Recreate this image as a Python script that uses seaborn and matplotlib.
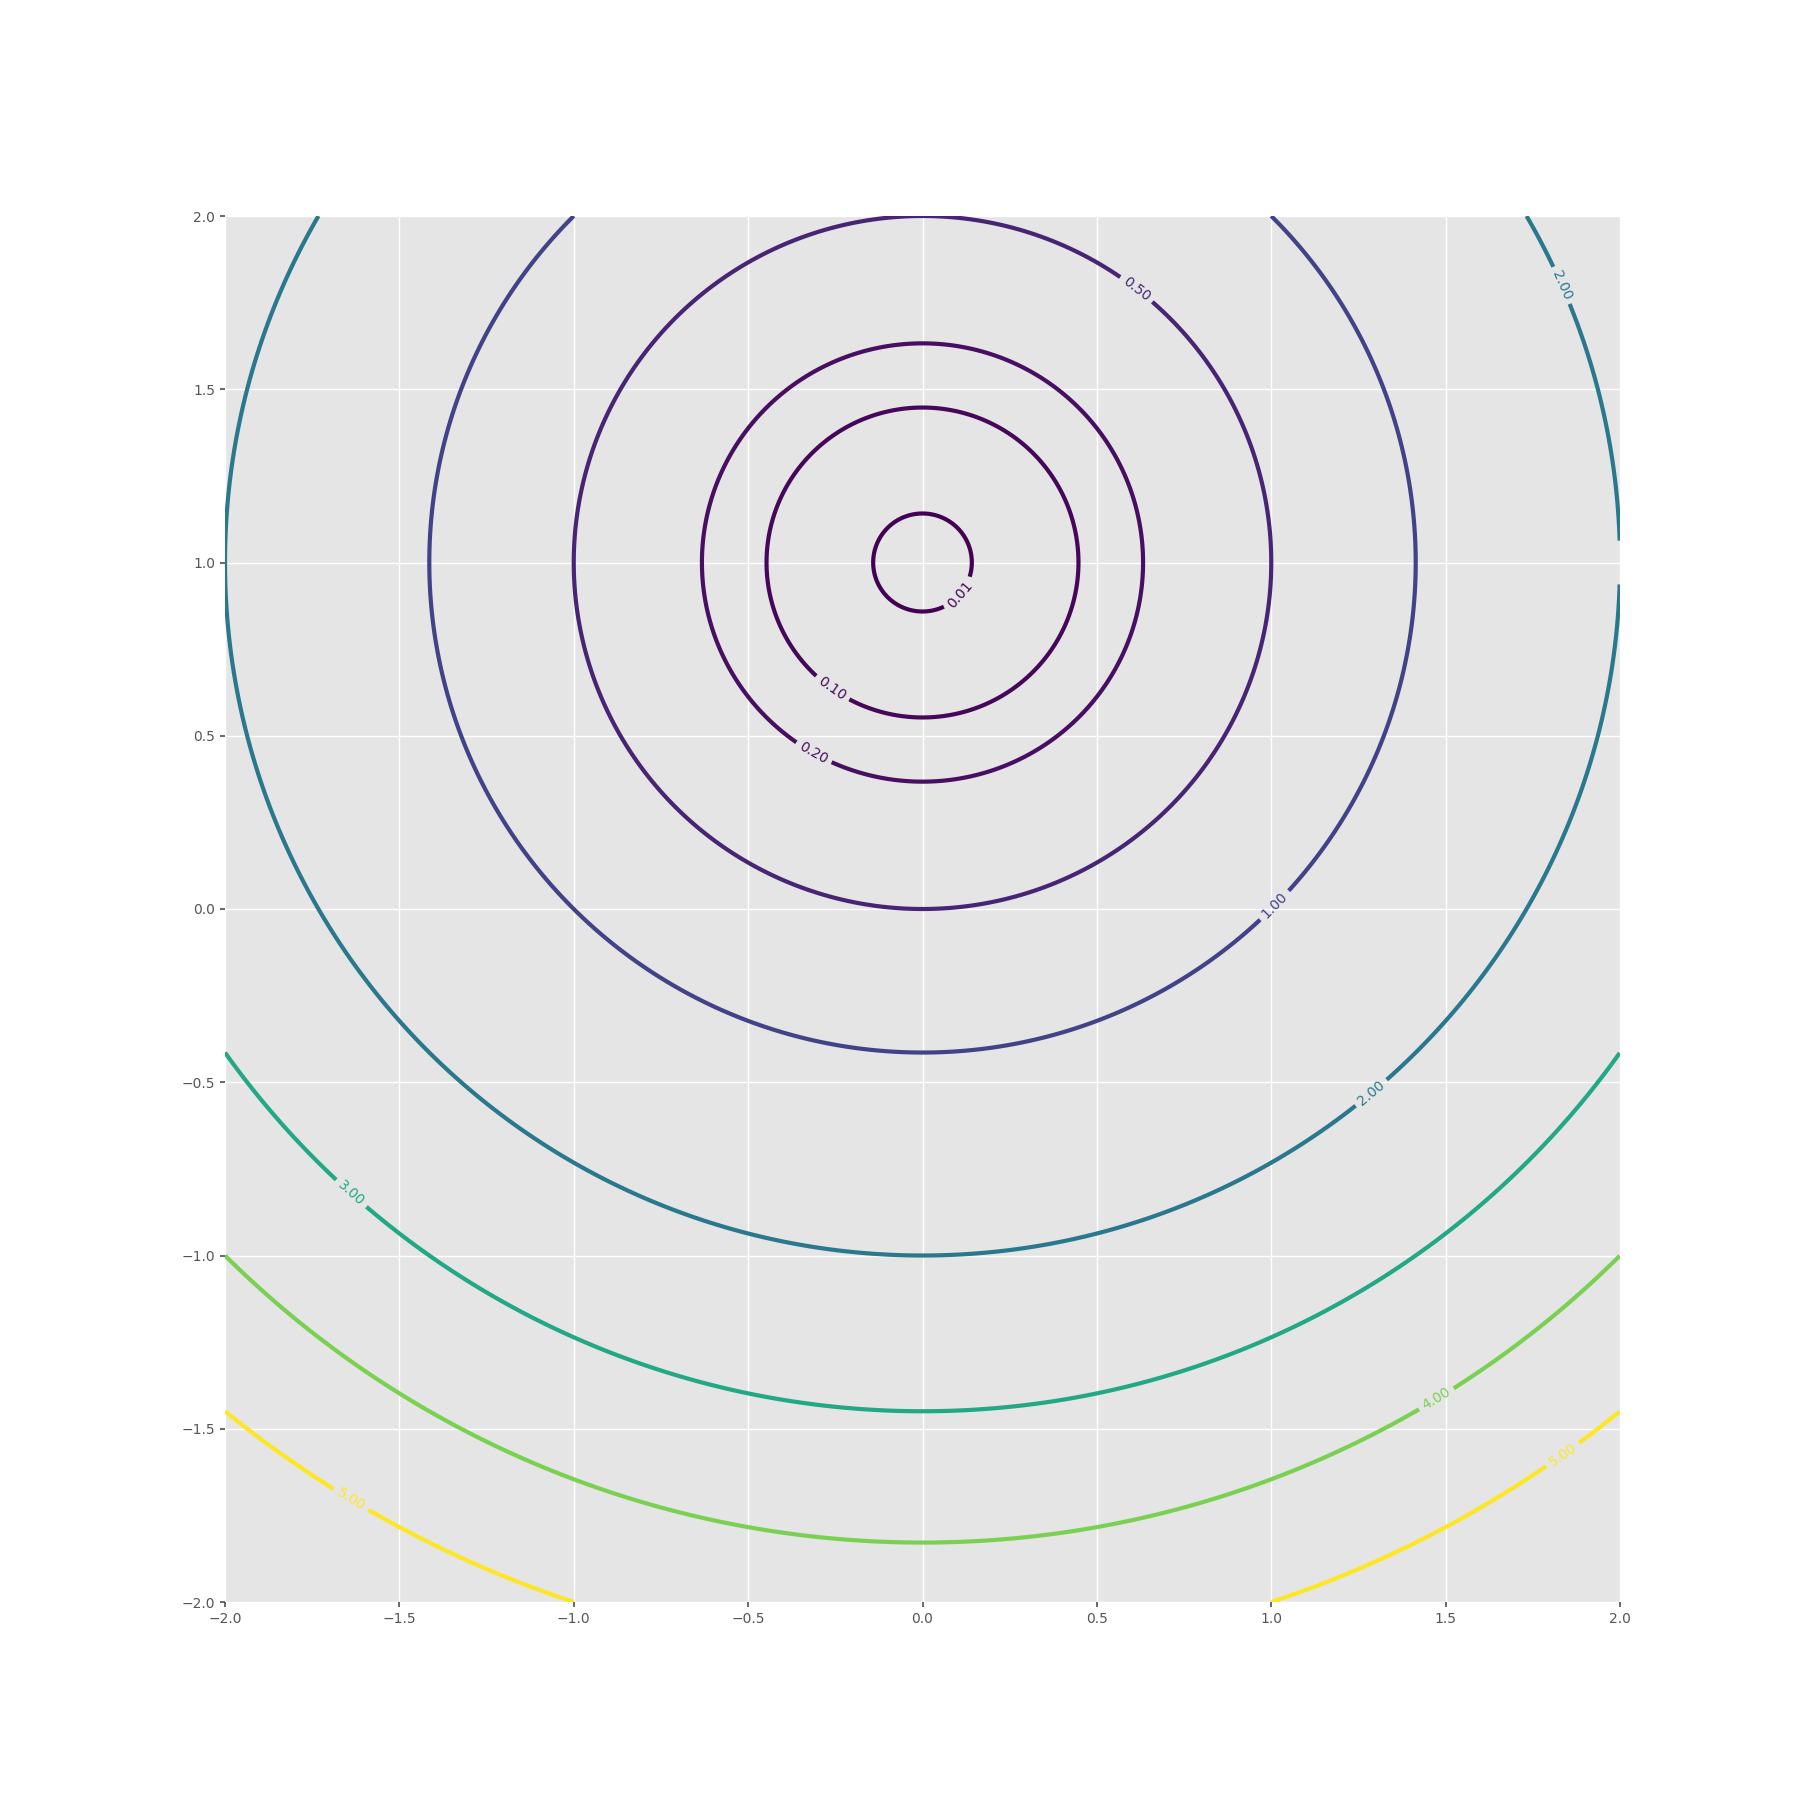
import numpy as np
import matplotlib
matplotlib.use('Agg')
import matplotlib.pyplot as plt
import seaborn as sns

# contour levels and grid
levels = [0.01, 0.1, 0.2, 0.5, 1.0, 2.0, 3.0, 4.0, 5.0]
x_grid = np.arange(-2.0, 2.0, 0.001)          # stops just short of 2.0
y_grid = np.arange(-2.0, 2.0005, 0.001)
center = [0.0, 1.0]

# where the inline labels sit
label_x = [0.105, -0.26, -0.313, 0.613, 1.012, 1.835, 1.288, -1.641, 1.473, -1.641, 1.839]
label_y = [0.91, 0.635, 0.449, 1.788, 0.008, 1.801, -0.532, -0.824, -1.413, -1.708, -1.579]

sns.set_theme(style='darkgrid', rc={
    'axes.facecolor': '#E5E5E5',
    'grid.color': 'white',
    'axes.edgecolor': 'white',
    'xtick.color': '#555555',
    'ytick.color': '#555555',
    'xtick.bottom': True,
    'ytick.left': True,
    'xtick.direction': 'out',
    'ytick.direction': 'out',
    'xtick.major.size': 3.5,
    'ytick.major.size': 3.5,
    'xtick.labelsize': 10,
    'ytick.labelsize': 10,
    'font.size': 10,
})
plt.rcParams['font.family'] = ['DejaVu Sans']

Z = ((x_grid[None, :] - center[0]) ** 2 + (y_grid[:, None] - center[1]) ** 2) / 2

fig, ax = plt.subplots(figsize=(18, 18), dpi=100)
cs = ax.contour(x_grid, y_grid, Z, levels=levels,
                cmap=sns.color_palette('viridis', as_cmap=True), linewidths=3)
ax.clabel(cs, inline=True, fontsize=10, fmt='%.2f',
          manual=list(zip(label_x, label_y)))
ax.set_xlim(-2, 2)
ax.set_ylim(-2, 2)
for s in ax.spines.values():
    s.set_visible(False)

fig.savefig('out.png')
